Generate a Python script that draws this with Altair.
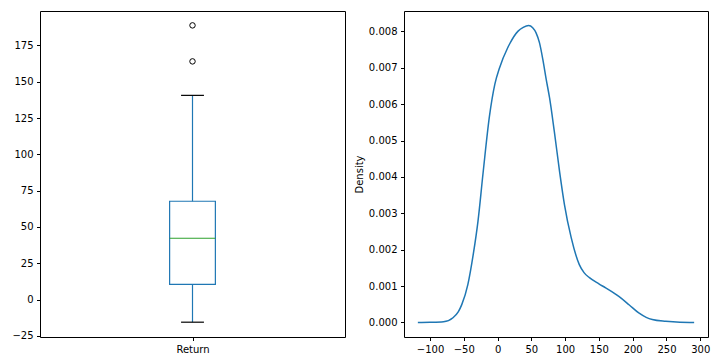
import altair as alt
import pandas as pd

# Box plot summary
box_category = ["Return"]
box_position = [1]
box_q1 = [10.5]
box_median = [42.2]
box_q3 = [67.7]
box_whisker_low = [-15.6]
box_whisker_high = [140.6]
outlier_values = [164.0, 188.8]

# KDE curve
kde_x = [-118, -100, -80, -66, -58, -53, -44, -36, -29, -21.5, -12, -4, 3, 15, 18, 30, 38,
         46, 52, 57, 62, 67, 72, 77, 84, 92, 99, 109, 121, 128, 136, 150, 160, 180, 195,
         209, 220, 229, 249, 270, 291]
kde_y = [0.0, 0.000005, 0.00002, 0.00013, 0.00030, 0.00049, 0.00104, 0.00187, 0.00278,
         0.00410, 0.00567, 0.00655, 0.00700, 0.00755, 0.00766, 0.00800, 0.00811, 0.00816,
         0.00810, 0.00796, 0.00769, 0.00723, 0.00668, 0.00617, 0.00525, 0.00412, 0.00324,
         0.00233, 0.00159, 0.00137, 0.00123, 0.00106, 0.00095, 0.00071, 0.00048, 0.00026,
         0.00014, 0.00008, 0.00003, 0.000005, 0.0]

box_ticks = [-25, 0, 25, 50, 75, 100, 125, 150, 175]
kde_xticks = [-100, -50, 0, 50, 100, 150, 200, 250, 300]
kde_yticks = [0.000, 0.001, 0.002, 0.003, 0.004, 0.005, 0.006, 0.007, 0.008]

BLUE = "#1f77b4"
GREEN = "#2ca02c"
FONT = "DejaVu Sans"
LW = 1.2

box_df = pd.DataFrame({
    "cat": box_category, "pos": box_position, "q1": box_q1, "med": box_median,
    "q3": box_q3, "lo": box_whisker_low, "hi": box_whisker_high,
})
out_df = pd.DataFrame({"pos": [box_position[0]] * len(outlier_values), "v": outlier_values})
kde_df = pd.DataFrame({"x": kde_x, "y": kde_y})

xscale = alt.Scale(domain=[0.5, 1.5], nice=False, zero=False)
yscale_box = alt.Scale(domain=[-25.8, 198.7], nice=False, zero=False)

xaxis_box = alt.Axis(values=box_position, labelExpr="'Return'", title=None, grid=False,
                     domain=False, tickColor="black", tickSize=3.5, labelPadding=3.5)
yaxis_box = alt.Axis(values=box_ticks, format="d", title=None, grid=False, domain=False,
                     tickColor="black", tickSize=3.5, labelPadding=3.5,
                     minExtent=31, maxExtent=31)

base_box = alt.Chart(box_df)
box_rect = base_box.mark_rect(fill=None, stroke=BLUE, strokeWidth=LW, fillOpacity=0).encode(
    x=alt.X("x1:Q", scale=xscale, axis=xaxis_box),
    x2="x2:Q",
    y=alt.Y("q1:Q", scale=yscale_box, axis=yaxis_box),
    y2="q3:Q",
).transform_calculate(x1="datum.pos - 0.075", x2="datum.pos + 0.075")
median_rule = base_box.mark_rule(color=GREEN, strokeWidth=LW).encode(
    x=alt.X("x1:Q", scale=xscale), x2="x2:Q", y=alt.Y("med:Q", scale=yscale_box)
).transform_calculate(x1="datum.pos - 0.075", x2="datum.pos + 0.075")
whisk_lo = base_box.mark_rule(color=BLUE, strokeWidth=LW).encode(
    x=alt.X("pos:Q", scale=xscale), y=alt.Y("lo:Q", scale=yscale_box), y2="q1:Q")
whisk_hi = base_box.mark_rule(color=BLUE, strokeWidth=LW).encode(
    x=alt.X("pos:Q", scale=xscale), y=alt.Y("q3:Q", scale=yscale_box), y2="hi:Q")
cap_lo = base_box.mark_rule(color="black", strokeWidth=LW).encode(
    x=alt.X("x1:Q", scale=xscale), x2="x2:Q", y=alt.Y("lo:Q", scale=yscale_box)
).transform_calculate(x1="datum.pos - 0.0375", x2="datum.pos + 0.0375")
cap_hi = base_box.mark_rule(color="black", strokeWidth=LW).encode(
    x=alt.X("x1:Q", scale=xscale), x2="x2:Q", y=alt.Y("hi:Q", scale=yscale_box)
).transform_calculate(x1="datum.pos - 0.0375", x2="datum.pos + 0.0375")
outliers = alt.Chart(out_df).mark_point(shape="circle", filled=False, color="black",
                                        size=30, strokeWidth=1, opacity=1).encode(
    x=alt.X("pos:Q", scale=xscale), y=alt.Y("v:Q", scale=yscale_box))

left = alt.layer(box_rect, whisk_lo, whisk_hi, cap_lo, cap_hi, median_rule, outliers).properties(
    width=305, height=326)

right = alt.Chart(kde_df).mark_line(color=BLUE, strokeWidth=1.5, interpolate="monotone").encode(
    x=alt.X("x:Q", scale=alt.Scale(domain=[-138.5, 311.5], nice=False, zero=False),
            axis=alt.Axis(values=kde_xticks, format="d", title=None, grid=False, domain=False,
                          tickColor="black", tickSize=3.5, labelPadding=3.5)),
    y=alt.Y("y:Q", scale=alt.Scale(domain=[-0.0004, 0.00856], nice=False, zero=False),
            axis=alt.Axis(values=kde_yticks, format=".3f", title="Density", grid=False,
                          domain=False, tickColor="black", tickSize=3.5, labelPadding=3.5,
                          titleFont=FONT, titleFontSize=10, titleFontWeight="normal",
                          titleColor="black", titlePadding=4)),
).properties(width=304, height=326)

chart = alt.hconcat(left, right, spacing=7).properties(
    padding={"left": 0, "top": 2, "right": 0, "bottom": 0}
).configure_view(stroke="black", strokeWidth=1).configure_axis(
    labelFont=FONT, labelFontSize=10, labelColor="black", titleFont=FONT
)

chart.save("out.html", embed_options={"renderer": "svg", "actions": False})
